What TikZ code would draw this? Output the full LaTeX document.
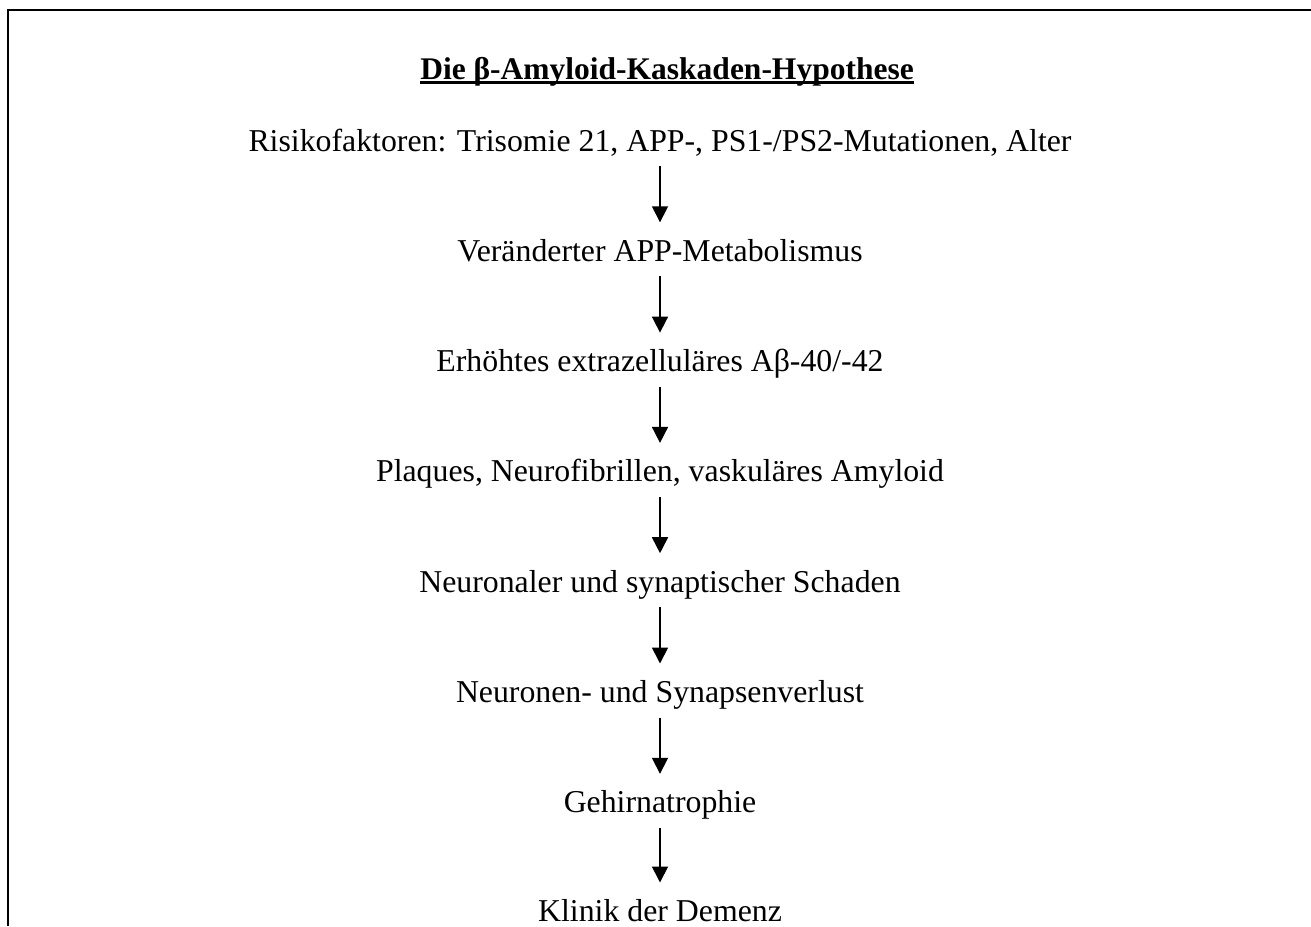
\documentclass[tikz,border=0pt]{standalone}
\usepackage{fontspec}
\setmainfont{Liberation Serif}
\usetikzlibrary{arrows.meta}
\begin{document}
\begin{tikzpicture}[x=1pt,y=1pt,
  txt/.style={anchor=base,inner sep=0pt,font=\fontsize{31.8}{36}\selectfont},
  ttl/.style={txt,font=\fontsize{31.5}{36}\selectfont\bfseries},
  arr/.style={line width=1.7pt,-{Triangle[width=16pt,length=16pt]}},
  frame/.style={line width=2.2pt}]
\useasboundingbox (0,0) rectangle (1311,-926);
\draw[frame] (8,-926) -- (8,-10) -- (1311,-10);
\node[ttl] (title) at (667,-79) {Die β-Amyloid-Kaskaden-Hypothese};
\draw[line width=2.5pt] ([yshift=-3.5pt]title.base west) -- ([yshift=-3.5pt]title.base east);
\node[txt] (n0) at (660,-151) {Risikofaktoren: Trisomie 21, APP-, PS1-/PS2-Mutationen, Alter};
\node[txt] (n1) at (660,-261.3) {Veränderter APP-Metabolismus};
\node[txt] (n2) at (660,-371.6) {Erhöhtes extrazelluläres Aβ-40/-42};
\node[txt] (n3) at (660,-481.9) {Plaques, Neurofibrillen, vaskuläres Amyloid};
\node[txt] (n4) at (660,-592.2) {Neuronaler und synaptischer Schaden};
\node[txt] (n5) at (660,-702.5) {Neuronen- und Synapsenverlust};
\node[txt] (n6) at (660,-812.8) {Gehirnatrophie};
\node[txt] (n7) at (660,-921.5) {Klinik der Demenz};
\foreach \a/\b in {n0/n1,n1/n2,n2/n3,n3/n4,n4/n5,n5/n6,n6/n7}
  \draw[arr] ([yshift=-15pt]\a.base) -- ([yshift=39pt]\b.base);
\end{tikzpicture}
\end{document}
